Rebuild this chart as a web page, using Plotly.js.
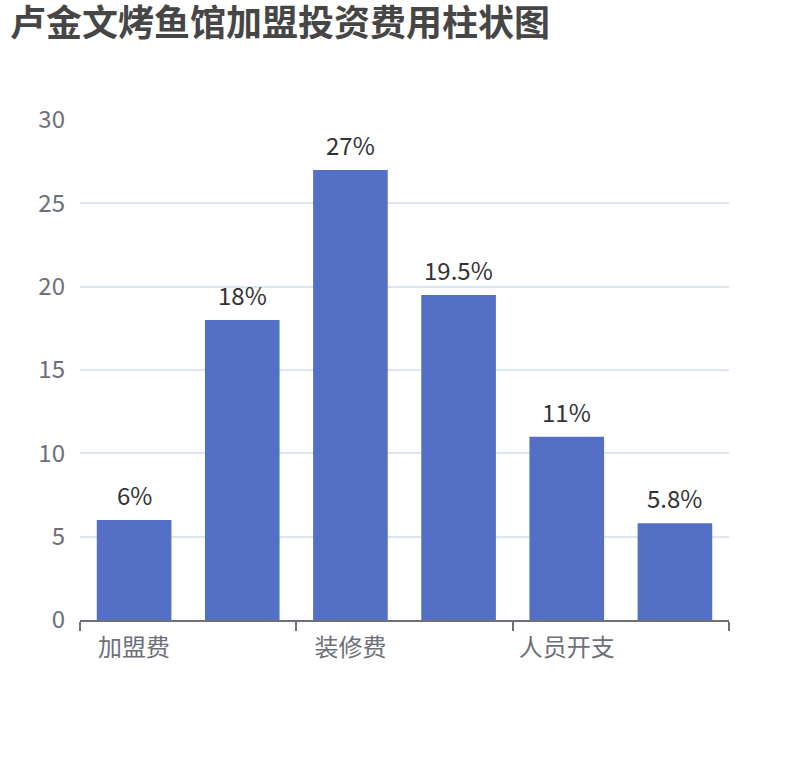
<!DOCTYPE html>
<html>
<head>
<meta charset="utf-8">
<script src="https://cdn.plot.ly/plotly-3.0.1.min.js"></script>
<style>
  html, body { margin: 0; padding: 0; background: #fff; }
  #chart { width: 810px; height: 760px; }
</style>
</head>
<body>
<div id="chart"></div>
<script>
// 加盟投资费用 (%), only every other category label is shown on the axis
const categories = ['加盟费', '设备费', '装修费', '房租', '人员开支', '其他费用'];
const shares = [6, 18, 27, 19.5, 11, 5.8];
const shownLabels = ['加盟费', '装修费', '人员开支'];

const fontFamily = '"Noto Sans CJK SC", "Noto Sans", sans-serif';
const xPos = categories.map((c, i) => i);
const labelPos = shownLabels.map(l => categories.indexOf(l));
// boundary ticks every two categories
const boundaryTicks = [];
for (let i = 0; i <= categories.length; i += 2) boundaryTicks.push(i - 0.5);

let trace = {
    type: 'bar',
    x: xPos,
    y: shares,
    width: 0.69,
    marker: { color: '#5470c6' },
    hoverinfo: 'skip'
};

let layout = {
    width: 810,
    height: 760,
    margin: { l: 80, r: 81, t: 120, b: 140 },
    paper_bgcolor: '#fff',
    plot_bgcolor: '#fff',
    showlegend: false,
    font: { family: fontFamily, size: 24, color: '#6E7079' },
    title: {
        text: '<b>卢金文烤鱼馆加盟投资费用柱状图</b>',
        font: { family: fontFamily, size: 36, color: '#464646' },
        xref: 'container',
        yref: 'container',
        x: 10 / 810,
        xanchor: 'left',
        y: 1 - 11 / 760,
        yanchor: 'top'
    },
    xaxis: {
        range: [-0.5, categories.length - 0.5],
        tickvals: labelPos,
        ticktext: shownLabels,
        ticks: '',
        ticklabelstandoff: 5,
        showgrid: false,
        zeroline: false,
        showline: true,
        linecolor: '#6E7079',
        linewidth: 2,
        tickfont: { size: 24, color: '#6E7079' },
        minor: {
            tickvals: boundaryTicks,
            ticks: 'outside',
            ticklen: 9,
            tickwidth: 2,
            tickcolor: '#6E7079',
            showgrid: false
        },
        fixedrange: true
    },
    yaxis: {
        range: [0, 30],
        dtick: 5,
        ticks: '',
        ticklabelstandoff: 14,
        showgrid: true,
        gridcolor: '#E0E6F1',
        gridwidth: 2,
        zeroline: false,
        showline: false,
        tickfont: { size: 24, color: '#6E7079' },
        fixedrange: true
    },
    annotations: xPos.map((x, i) => ({
        x: x,
        y: shares[i],
        xref: 'x',
        yref: 'y',
        text: shares[i] + '%',
        showarrow: false,
        yanchor: 'bottom',
        yshift: 6,
        font: { family: fontFamily, size: 24, color: '#333' }
    }))
};

Plotly.newPlot('chart', [trace], layout, { displayModeBar: false, staticPlot: true });
</script>
</body>
</html>
